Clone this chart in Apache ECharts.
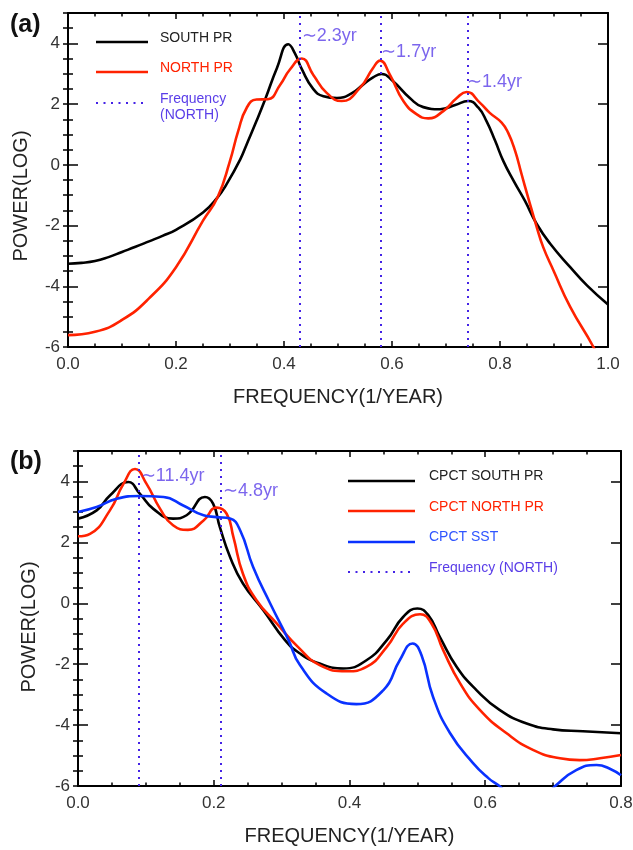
<!DOCTYPE html>
<html><head><meta charset="utf-8">
<script src="https://cdn.jsdelivr.net/npm/echarts@6/dist/echarts.min.js"></script>
<style>html,body{margin:0;padding:0;background:#fff}#c{width:633px;height:850px}</style>
</head><body><div id="c"></div>
<script>
// ---------- Panel (a) data ----------
const topSouthFreq = [0, 0.025, 0.05, 0.075, 0.1, 0.125, 0.15, 0.175, 0.2, 0.25, 0.277, 0.294, 0.319, 0.331, 0.349, 0.365, 0.387, 0.408, 0.42, 0.433, 0.454, 0.473, 0.498, 0.525, 0.547, 0.565, 0.581, 0.602, 0.633, 0.658, 0.689, 0.717, 0.741, 0.76, 0.775, 0.791, 0.806, 0.825, 0.846, 0.868, 0.893, 0.93, 0.961, 1.0];
const topSouthPow  = [-3.26, -3.23, -3.17, -3.04, -2.87, -2.7, -2.52, -2.34, -2.14, -1.57, -1.07, -0.63, 0.18, 0.68, 1.44, 2.15, 3.19, 3.97, 3.68, 3.15, 2.5, 2.26, 2.2, 2.35, 2.65, 2.88, 2.99, 2.75, 2.2, 1.9, 1.83, 1.97, 2.1, 1.88, 1.44, 0.79, 0.13, -0.52, -1.18, -1.95, -2.6, -3.37, -3.97, -4.6];
const topNorthFreq = [0, 0.05, 0.1, 0.15, 0.2, 0.25, 0.277, 0.3, 0.315, 0.331, 0.349, 0.37, 0.393, 0.411, 0.433, 0.454, 0.479, 0.507, 0.541, 0.565, 0.578, 0.596, 0.621, 0.646, 0.667, 0.695, 0.72, 0.738, 0.763, 0.781, 0.803, 0.815, 0.828, 0.84, 0.852, 0.868, 0.88, 0.899, 0.93, 0.973, 1.0];
const topNorthPow  = [-5.61, -5.5, -5.11, -4.4, -3.37, -1.84, -1.07, 0.13, 1.1, 1.88, 2.15, 2.16, 2.64, 3.14, 3.5, 2.97, 2.37, 2.1, 2.54, 3.19, 3.43, 2.97, 2.1, 1.66, 1.53, 1.77, 2.2, 2.4, 2.04, 1.71, 1.39, 1.06, 0.46, -0.31, -1.07, -2.05, -2.71, -3.48, -4.68, -6.0, -7.0];
const topPeakFreqs  = [0.431, 0.578, 0.737];
const topPeakLabels = ['∼2.3yr', '∼1.7yr', '∼1.4yr'];
const topXTicks = [0, 1, 0.2];     // min, max, step
const yTicks = [-6, 5, 2];          // min, max, step

// ---------- Panel (b) data ----------
const botSouthFreq = [0, 0.0275, 0.047, 0.074, 0.091, 0.111, 0.14, 0.16, 0.187, 0.199, 0.209, 0.224, 0.243, 0.273, 0.305, 0.327, 0.356, 0.391, 0.425, 0.455, 0.479, 0.500, 0.516, 0.533, 0.558, 0.587, 0.621, 0.661, 0.70, 0.744, 0.8];
const botSouthPow  = [2.78, 3.05, 3.54, 3.98, 3.6, 3.1, 2.78, 2.89, 3.49, 3.27, 2.5, 1.52, 0.65, -0.23, -1.21, -1.65, -1.98, -2.14, -1.87, -1.21, -0.45, -0.17, -0.39, -1.1, -2.09, -2.85, -3.5, -3.95, -4.14, -4.2, -4.27];
const botNorthFreq = [0, 0.0177, 0.047, 0.067, 0.084, 0.101, 0.121, 0.14, 0.162, 0.185, 0.204, 0.219, 0.229, 0.243, 0.263, 0.293, 0.324, 0.356, 0.396, 0.425, 0.455, 0.479, 0.504, 0.521, 0.538, 0.563, 0.592, 0.631, 0.671, 0.71, 0.739, 0.769, 0.8];
const botNorthPow  = [2.2, 2.28, 3.05, 3.92, 4.41, 3.92, 3.1, 2.56, 2.41, 2.72, 3.14, 2.94, 2.17, 0.97, 0.1, -0.67, -1.43, -2.03, -2.23, -2.09, -1.43, -0.67, -0.36, -0.67, -1.54, -2.63, -3.5, -4.26, -4.82, -5.09, -5.15, -5.09, -4.98];
const botSstFreq   = [0, 0.0275, 0.057, 0.091, 0.126, 0.155, 0.185, 0.204, 0.224, 0.239, 0.258, 0.283, 0.31, 0.327, 0.366, 0.41, 0.45, 0.474, 0.493, 0.506, 0.523, 0.548, 0.582, 0.605, 0.619, 0.64, 0.665, 0.69, 0.703, 0.734, 0.764, 0.785, 0.8];
const botSstPow    = [3.0, 3.16, 3.43, 3.52, 3.49, 3.21, 2.89, 2.83, 2.78, 2.39, 1.19, 0, -1.2, -2.03, -2.96, -3.31, -2.85, -1.87, -1.32, -1.7, -3.07, -4.26, -5.25, -5.75, -5.97, -6.35, -6.5, -6.3, -6.0, -5.48, -5.31, -5.45, -5.65];
const botPeakFreqs  = [0.091, 0.212];
const botPeakLabels = ['∼11.4yr', '∼4.8yr'];
const botXTicks = [0, 0.8, 0.2];

// ---------- styles / layout ----------
const FONT = 'Liberation Sans, Arial, Helvetica, sans-serif';
const C_BLACK = '#000000', C_RED = '#ff2200', C_BLUE = '#0a32ff', C_FREQ = '#4422e6', C_FREQ_TXT = '#5a3ee8';
const LW = 2.6;
const topNoteDy = [23, 39, 69];
const botNoteDy = [25, 40];

const zip = (xs, ys) => xs.map((x, i) => [x, ys[i]]);

function xAxes(gridIndex, t) {
  const base = {
    gridIndex, type: 'value', min: t[0], max: t[1], interval: t[2],
    splitLine: { show: false }, minorSplitLine: { show: false },
    axisLine: { show: true, onZero: false, lineStyle: { color: '#000', width: 2 } },
    axisTick: { show: true, inside: true, length: 6, lineStyle: { color: '#000', width: 1.5 } },
    minorTick: { show: true, splitNumber: 4, length: 3.5, lineStyle: { color: '#000', width: 1.5 } }
  };
  return [
    Object.assign({}, base, {
      position: 'bottom',
      axisLabel: { show: true, fontSize: 17, color: '#333', fontFamily: FONT, margin: 9, formatter: v => v.toFixed(1) },
      name: 'FREQUENCY(1/YEAR)', nameLocation: 'middle', nameGap: 40,
      nameTextStyle: { fontSize: 20, color: '#222', fontFamily: FONT }
    }),
    Object.assign({}, base, { position: 'top', axisLabel: { show: false } })
  ];
}
function yAxes(gridIndex) {
  const common = {
    gridIndex, type: 'value', min: yTicks[0], max: yTicks[1],
    splitLine: { show: false }, minorSplitLine: { show: false }
  };
  const major = side => Object.assign({}, common, {
    position: side, interval: yTicks[2],
    axisLine: { show: true, onZero: false, lineStyle: { color: '#000', width: 2 } },
    axisTick: { show: true, inside: true, length: 10, lineStyle: { color: '#000', width: 1.5 } },
    axisLabel: side === 'left'
      ? { show: true, fontSize: 17, color: '#333', fontFamily: FONT, margin: 8, showMaxLabel: false }
      : { show: false }
  });
  const minor = side => Object.assign({}, common, {
    position: side, interval: 0.5,
    axisLine: { show: false },
    axisTick: { show: true, inside: true, length: 5, lineStyle: { color: '#000', width: 1.5 } },
    axisLabel: { show: false }
  });
  return [major('left'), minor('left'), major('right'), minor('right')];
}

function curve(name, data, color, xi, yi, extra) {
  return Object.assign({
    name, type: 'line', xAxisIndex: xi, yAxisIndex: yi, data,
    showSymbol: false, symbol: 'none', smooth: 0.5, clip: true,
    lineStyle: { color, width: LW }, itemStyle: { color }, z: 3
  }, extra || {});
}
function freqMarks(freqs) {
  return {
    silent: true, symbol: ['none', 'none'], animation: false,
    label: { show: false },
    lineStyle: { type: [2, 5], color: C_FREQ, width: 2 },
    data: freqs.map(f => ({ xAxis: f }))
  };
}
function notes(freqs, labels, dys, xi, yi) {
  return {
    type: 'scatter', xAxisIndex: xi, yAxisIndex: yi, symbolSize: 0, silent: true, z: 5,
    data: freqs.map((f, i) => ({ name: labels[i], value: [f, yTicks[1]], label: { offset: [0, dys[i]] } })),
    label: { show: true, position: 'right', distance: 1, formatter: '{b}', fontSize: 18, color: C_FREQ_TXT, fontFamily: FONT }
  };
}

// legend drawn as graphic
function legendLine(x1, x2, y, color, dashed) {
  return { type: 'line', shape: { x1, y1: y, x2, y2: y },
    style: { stroke: color, lineWidth: dashed ? 2 : LW, lineDash: dashed ? [2, 5.5] : null } };
}
function legendText(x, y, text, color) {
  return { type: 'text', x, y, style: { text, fill: color, font: '14px ' + FONT, textVerticalAlign: 'middle', textBaseline: 'middle' } };
}

const chart = echarts.init(document.getElementById('c'), null, { renderer: 'canvas' });
chart.setOption({
  animation: false,
  backgroundColor: '#fff',
  grid: [
    { left: 68, top: 13, width: 540, height: 334, containLabel: false, outerBoundsMode: 'none' },
    { left: 78, top: 451, width: 543, height: 335, containLabel: false, outerBoundsMode: 'none' }
  ],
  xAxis: [...xAxes(0, topXTicks), ...xAxes(1, botXTicks)],
  yAxis: [...yAxes(0), ...yAxes(1)],
  series: [
    curve('SOUTH PR', zip(topSouthFreq, topSouthPow), C_BLACK, 0, 0),
    curve('NORTH PR', zip(topNorthFreq, topNorthPow), C_RED, 0, 0, { markLine: freqMarks(topPeakFreqs) }),
    notes(topPeakFreqs, topPeakLabels, topNoteDy, 0, 0),
    curve('CPCT SOUTH PR', zip(botSouthFreq, botSouthPow), C_BLACK, 2, 4),
    curve('CPCT NORTH PR', zip(botNorthFreq, botNorthPow), C_RED, 2, 4, { markLine: freqMarks(botPeakFreqs) }),
    curve('CPCT SST', zip(botSstFreq, botSstPow), C_BLUE, 2, 4),
    notes(botPeakFreqs, botPeakLabels, botNoteDy, 2, 4)
  ],
  graphic: [
    { type: 'text', x: 10, y: 25, style: { text: '(a)', font: 'bold 25px ' + FONT, fill: '#111', textVerticalAlign: 'middle', textBaseline: 'middle' } },
    { type: 'text', x: 10, y: 462, style: { text: '(b)', font: 'bold 25px ' + FONT, fill: '#111', textVerticalAlign: 'middle', textBaseline: 'middle' } },
    { type: 'text', x: 21, y: 196, rotation: Math.PI / 2, style: { text: 'POWER(LOG)', font: '20px ' + FONT, fill: '#222', textAlign: 'center', textVerticalAlign: 'middle', textBaseline: 'middle' } },
    { type: 'text', x: 29, y: 627, rotation: Math.PI / 2, style: { text: 'POWER(LOG)', font: '20px ' + FONT, fill: '#222', textAlign: 'center', textVerticalAlign: 'middle', textBaseline: 'middle' } },
    legendLine(96, 148, 42, C_BLACK), legendText(160, 38, 'SOUTH PR', '#222'),
    legendLine(96, 148, 72, C_RED), legendText(160, 68, 'NORTH PR', C_RED),
    legendLine(96, 148, 103, C_FREQ, true), legendText(160, 99, 'Frequency', C_FREQ_TXT), legendText(160, 115, '(NORTH)', C_FREQ_TXT),
    legendLine(348, 415, 481, C_BLACK), legendText(429, 476, 'CPCT SOUTH PR', '#222'),
    legendLine(348, 415, 511, C_RED), legendText(429, 507, 'CPCT NORTH PR', C_RED),
    legendLine(348, 415, 542, C_BLUE), legendText(429, 537, 'CPCT SST', '#2f55ff'),
    legendLine(348, 415, 572, C_FREQ, true), legendText(429, 568, 'Frequency (NORTH)', C_FREQ_TXT)
  ]
});
</script></body></html>
